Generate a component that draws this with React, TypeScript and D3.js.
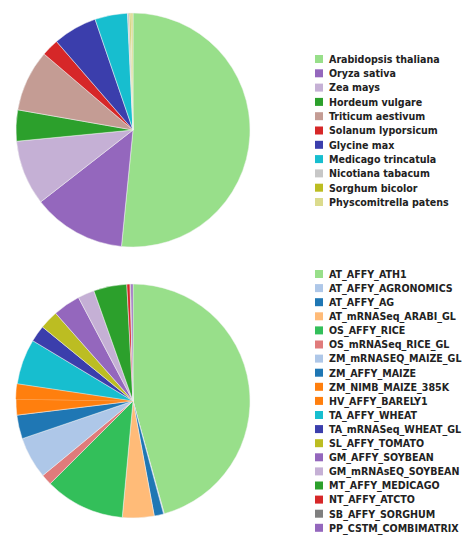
import React from "react";
import * as d3 from "d3";

// top pie: species
const species = [
  "Arabidopsis thaliana",
  "Oryza sativa",
  "Zea mays",
  "Hordeum vulgare",
  "Triticum aestivum",
  "Solanum lyporsicum",
  "Glycine max",
  "Medicago trincatula",
  "Nicotiana tabacum",
  "Sorghum bicolor",
  "Physcomitrella patens",
];
const speciesValues = [51.6, 12.9, 9.0, 4.3, 8.5, 2.4, 6.1, 4.5, 0.25, 0.2, 0.3];
const speciesColors = [
  "#98df8a", "#9467bd", "#c5b0d5", "#2ca02c", "#c49c94", "#d62728",
  "#3b3eac", "#17becf", "#c7c7c7", "#bcbd22", "#dbdb8d",
];

// bottom pie: platforms
const platforms = [
  "AT_AFFY_ATH1",
  "AT_AFFY_AGRONOMICS",
  "AT_AFFY_AG",
  "AT_mRNASeq_ARABI_GL",
  "OS_AFFY_RICE",
  "OS_mRNASeq_RICE_GL",
  "ZM_mRNASEQ_MAIZE_GL",
  "ZM_AFFY_MAIZE",
  "ZM_NIMB_MAIZE_385K",
  "HV_AFFY_BARELY1",
  "TA_AFFY_WHEAT",
  "TA_mRNASeq_WHEAT_GL",
  "SL_AFFY_TOMATO",
  "GM_AFFY_SOYBEAN",
  "GM_mRNAsEQ_SOYBEAN",
  "MT_AFFY_MEDICAGO",
  "NT_AFFY_ATCTO",
  "SB_AFFY_SORGHUM",
  "PP_CSTM_COMBIMATRIX",
];
const platformValues = [
  45.9, 0.1, 1.3, 4.4, 11.1, 1.5, 5.8, 3.3, 2.2, 2.1, 6.3, 2.3, 2.6, 3.8, 2.3, 4.6, 0.45, 0.1, 0.3,
];
const platformColors = [
  "#98df8a", "#aec7e8", "#1f77b4", "#ffbb78", "#33bf5a", "#e07b7b", "#aec7e8",
  "#1f77b4", "#ff7f0e", "#ff7f0e", "#17becf", "#3b3eac", "#bcbd22", "#9467bd",
  "#c5b0d5", "#2ca02c", "#d62728", "#7f7f7f", "#9467bd",
];

const R = 117;

function Pie({ cx, cy, values, colors }: { cx: number; cy: number; values: number[]; colors: string[] }) {
  const arcs = d3.pie<number>().sort(null)(values);
  const arc = d3.arc<d3.PieArcDatum<number>>().innerRadius(0).outerRadius(R);
  return (
    <g transform={`translate(${cx},${cy})`}>
      {arcs.map((a, i) => (
        <path
          key={i}
          d={arc(a) ?? ""}
          fill={colors[i]}
          stroke={i > 0 && colors[i] === colors[i - 1] ? colors[i] : "#f2f2f2"}
          strokeWidth={0.5}
        />
      ))}
    </g>
  );
}

function Legend({ x, y, step, labels, colors }: { x: number; y: number; step: number; labels: string[]; colors: string[] }) {
  return (
    <g transform={`translate(${x},${y})`}>
      {labels.map((l, i) => (
        <g key={l} transform={`translate(0,${i * step})`}>
          <rect x={0} y={-4} width={8} height={8} fill={colors[i]} />
          <text
            x={14}
            y={0}
            dy="0.36em"
            fontFamily="'DejaVu Sans Condensed', 'DejaVu Sans', sans-serif"
            fontWeight="bold"
            fontSize={10.6}
            fill="#222"
          >
            {l}
          </text>
        </g>
      ))}
    </g>
  );
}

export default function App() {
  return (
    <svg
      width={462}
      height={536}
      style={{ position: "absolute", left: 0, top: 0, background: "#fff" }}
    >
      <Pie cx={133} cy={130} values={speciesValues} colors={speciesColors} />
      <Legend x={315} y={59} step={14.3} labels={species} colors={speciesColors} />
      <Pie cx={133} cy={401} values={platformValues} colors={platformColors} />
      <Legend x={315} y={274} step={14.1} labels={platforms} colors={platformColors} />
    </svg>
  );
}
